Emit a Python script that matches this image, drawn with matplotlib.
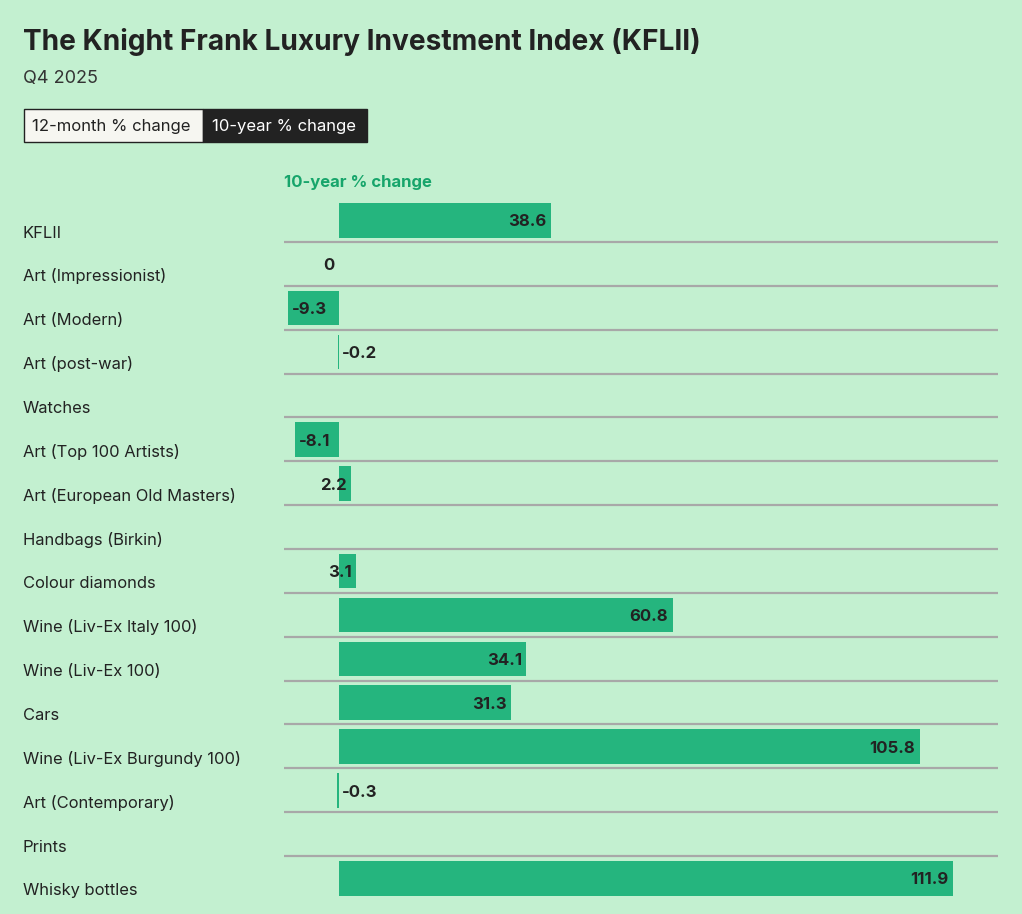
import matplotlib
matplotlib.use("Agg")
import matplotlib.pyplot as plt
from matplotlib.patches import Rectangle

categories = ["KFLII", "Art (Impressionist)", "Art (Modern)", "Art (post-war)", "Watches",
              "Art (Top 100 Artists)", "Art (European Old Masters)", "Handbags (Birkin)",
              "Colour diamonds", "Wine (Liv-Ex Italy 100)", "Wine (Liv-Ex 100)", "Cars",
              "Wine (Liv-Ex Burgundy 100)", "Art (Contemporary)", "Prints", "Whisky bottles"]
values = [38.6, 0, -9.3, -0.2, None, -8.1, 2.2, None, 3.1, 60.8, 34.1, 31.3, 105.8, -0.3, None, 111.9]

title = "The Knight Frank Luxury Investment Index (KFLII)"
subtitle = "Q4 2025"
tab_labels = ["12-month % change", "10-year % change"]
column_header = "10-year % change"

BG = "#c3f0d0"
BAR = "#25b57e"
TXT = "#222222"
GREEN_TXT = "#17a56b"
GRID = "#a8a8a8"
FONT = "Inter"

W, H = 1022, 914
fig = plt.figure(figsize=(W / 100, H / 100), dpi=100, facecolor=BG)

def fx(x):
    return x / W

def fy(y):
    return 1 - y / H

# Title and subtitle
fig.text(fx(23), fy(49.5), title, fontsize=20.2, fontweight="bold", color=TXT,
         family=FONT, va="baseline", ha="left")
fig.text(fx(23), fy(83.5), subtitle, fontsize=13, color="#333333",
         family=FONT, va="baseline", ha="left")

# Toggle buttons
fig.patches.append(Rectangle((fx(23.5), fy(142)), fx(203 - 23.5), (142 - 108.5) / H,
                             transform=fig.transFigure, facecolor="#f6f6f1",
                             edgecolor=TXT, lw=1.0))
fig.patches.append(Rectangle((fx(203), fy(142)), fx(367 - 203), (142 - 108.5) / H,
                             transform=fig.transFigure, facecolor="#222222",
                             edgecolor="#222222", lw=1.0))
fig.text(fx(32), fy(131), tab_labels[0], fontsize=12, color=TXT, family=FONT,
         va="baseline", ha="left")
fig.text(fx(212), fy(131), tab_labels[1], fontsize=12, color="white", family=FONT,
         va="baseline", ha="left")

# Column header
fig.text(fx(284), fy(186.5), column_header, fontsize=12, fontweight="bold",
         color=GREEN_TXT, family=FONT, va="baseline", ha="left")

# Axes area
pitch = 43.86
top_px = 242 - pitch
n = len(categories)
bot_px = top_px + n * pitch
left_px, right_px = 284, 998
ax = fig.add_axes([fx(left_px), fy(bot_px), fx(right_px - left_px), (bot_px - top_px) / H])
ax.set_facecolor("none")
scale = 5.49  # px per unit
zero_px = 339
ax.set_xlim((left_px - zero_px) / scale, (right_px - zero_px) / scale)
ax.set_ylim(n, 0)
for s in ax.spines.values():
    s.set_visible(False)
ax.set_xticks([])
ax.set_yticks([])

# separator lines
for i in range(n - 1):
    ax.axhline(i + 1, color=GRID, lw=1.6, zorder=1)

bar_h = 0.79
for i, (cat, v) in enumerate(zip(categories, values)):
    # category label
    fig.text(fx(23), fy(top_px + (i + 1) * pitch - 4.5), cat, fontsize=11.9, color=TXT,
             family=FONT, va="baseline", ha="left")
    if v is None:
        continue
    ax.barh(i + 0.505, v, height=bar_h, left=0, color=BAR, edgecolor="none", zorder=2)
    txt = f"{v:g}"
    ybase = i + 0.645
    if v >= 0:
        ax.annotate(txt, xy=(v, ybase), xytext=(-3.2, 0), textcoords="offset points",
                    ha="right", va="baseline", fontsize=12, fontweight="bold",
                    color=TXT, family=FONT, zorder=3)
    elif abs(v) * scale > 30:
        ax.annotate(txt, xy=(v, ybase), xytext=(3.0, 0), textcoords="offset points",
                    ha="left", va="baseline", fontsize=12, fontweight="bold",
                    color=TXT, family=FONT, zorder=3)
    else:
        ax.annotate(txt, xy=(0, ybase), xytext=(2.2, 0), textcoords="offset points",
                    ha="left", va="baseline", fontsize=12, fontweight="bold",
                    color=TXT, family=FONT, zorder=3)

fig.savefig("out.png", dpi=100, facecolor=BG)
